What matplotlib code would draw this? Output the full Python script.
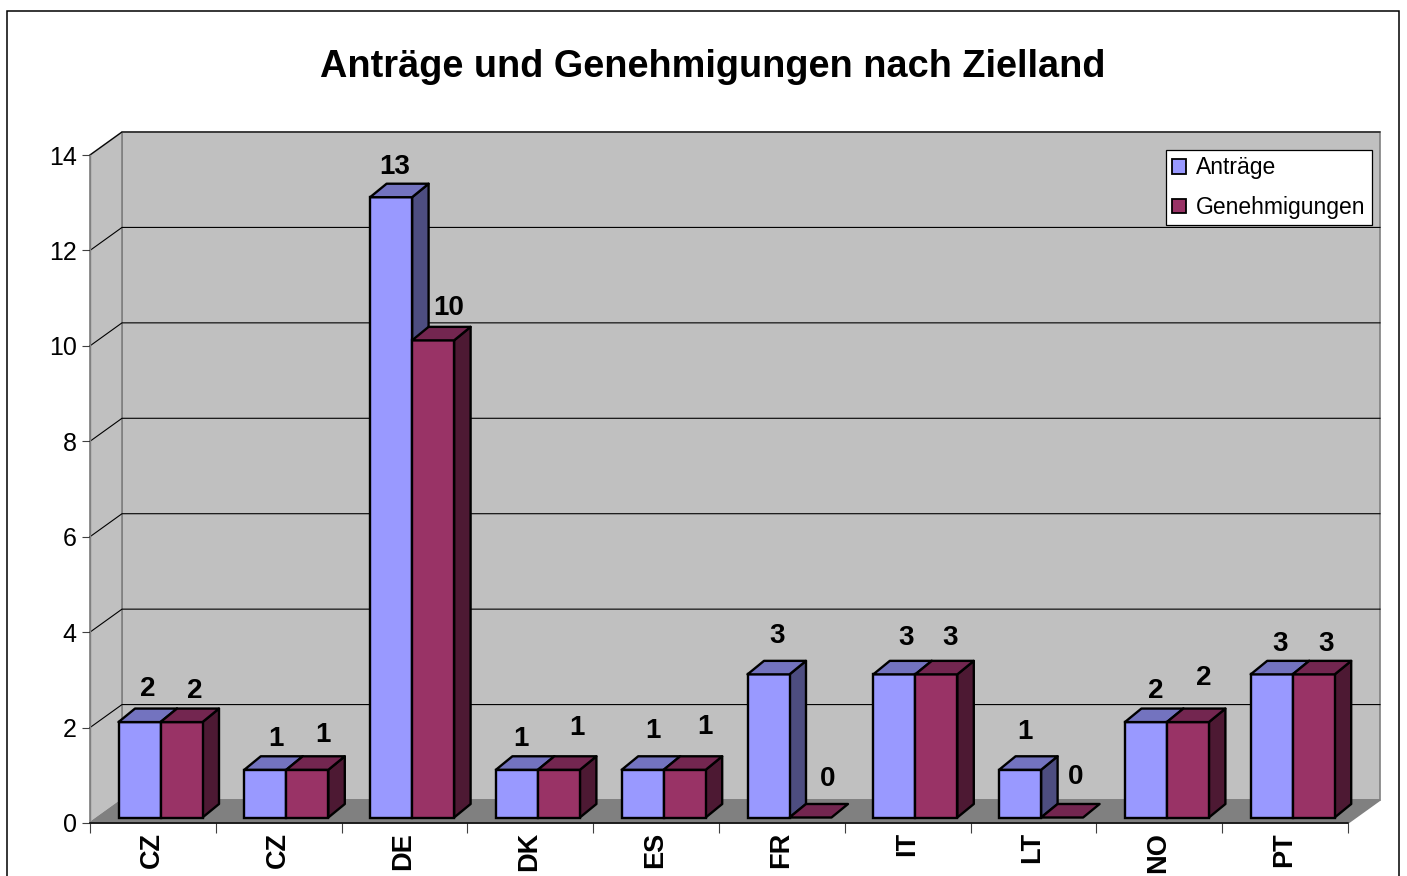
import matplotlib
matplotlib.use('Agg')
from matplotlib import pyplot as plt
from matplotlib.patches import Patch, Polygon, Rectangle
from matplotlib.transforms import ScaledTranslation

plt.rcParams['font.family'] = ['Liberation Sans', 'DejaVu Sans']

W, H = 1407, 876

# Data
laender = ['CZ', 'CZ', 'DE', 'DK', 'ES', 'FR', 'IT', 'LT', 'NO', 'PT']
antraege = [2, 1, 13, 1, 1, 3, 3, 1, 2, 3]
genehmigungen = [2, 1, 10, 1, 1, 0, 3, 0, 2, 3]
y_ticks = [0, 2, 4, 6, 8, 10, 12, 14]

# Label nudges in pixels, the labels float unevenly above the bars
antraege_nudge = [(8.5, 33), (11, 31), (4, 30), (4, 31), (10, 39),
                  (9, 38), (12, 36), (5, 38), (10, 31), (8, 30)]
genehm_nudge = [(13.5, 31), (16, 35), (16, 32), (18, 42), (20, 43),
                (17, 38), (14, 36), (14, 40), (16, 44), (12, 30)]

# Plot area in pixels
LEFT, RIGHT, BOTTOM, TOP = 90, 1348, 823, 155
PX_X = len(laender) / (RIGHT - LEFT)
PX_Y = 14 / (BOTTOM - TOP)

# 3d look: wall depth, bar depth, bar base
WALL_X, WALL_Y = 32 * PX_X, 23 * PX_Y
BAR_DX, BAR_DY = 16.5 * PX_X, 13.5 * PX_Y
BASE = 5.5 * PX_Y
BAR_W = 42 * PX_X
BAR_START = 28.5 * PX_X

fig = plt.figure(figsize=(W / 100, H / 100), dpi=100, facecolor='white')
ax = fig.add_axes([LEFT / W, 1 - BOTTOM / H, (RIGHT - LEFT) / W, (BOTTOM - TOP) / H])
ax.set_xlim(0, len(laender))
ax.set_ylim(0, 14)
ax.patch.set_visible(False)

# Outer chart border, its bottom edge is cut off in the picture
fig.add_artist(Rectangle((7 / W, -0.02), (1399 - 7) / W, 1.02 - 11 / H,
                         transform=fig.transFigure, fill=False,
                         edgecolor='black', linewidth=1.1))

n = len(laender)
wall_kw = dict(clip_on=False, linewidth=1.2, edgecolor='#808080', zorder=1)
ax.add_patch(Rectangle((WALL_X, WALL_Y), n, 14, facecolor='#C0C0C0', **wall_kw))
ax.add_patch(Polygon([(0, 0), (WALL_X, WALL_Y), (WALL_X, 14 + WALL_Y), (0, 14)],
                     facecolor='#C0C0C0', **wall_kw))
ax.add_patch(Polygon([(0, 0), (n, 0), (n + WALL_X, WALL_Y), (WALL_X, WALL_Y)],
                     facecolor='#808080', **wall_kw))

for t in y_ticks[1:]:
    ax.plot([0, WALL_X, n + WALL_X], [t, t + WALL_Y, t + WALL_Y], color='black',
            linewidth=0.8, clip_on=False, zorder=2)


def draw_bars(start, values, front, top, side, nudges):
    for i, v in enumerate(values):
        x0 = i + start
        x1 = x0 + BAR_W
        y1 = BASE + v
        if v > 0:
            ax.add_patch(Polygon([(x1, BASE), (x1 + BAR_DX, BASE + BAR_DY),
                                  (x1 + BAR_DX, y1 + BAR_DY), (x1, y1)],
                                 facecolor=side, edgecolor='black', linewidth=1.7,
                                 clip_on=False, zorder=3, joinstyle='round'))
            ax.bar(x0, v, width=BAR_W, bottom=BASE, align='edge', color=front,
                   edgecolor='black', linewidth=1.7, clip_on=False, zorder=3)
        ax.add_patch(Polygon([(x0, y1), (x1, y1), (x1 + BAR_DX, y1 + BAR_DY),
                              (x0 + BAR_DX, y1 + BAR_DY)],
                             facecolor=top, edgecolor='black', linewidth=1.7,
                             clip_on=False, zorder=3, joinstyle='round'))
        ax.annotate(str(v), (x0 + BAR_W / 2, y1),
                    xytext=(nudges[i][0] * 0.72, nudges[i][1] * 0.72),
                    textcoords='offset points', ha='center', va='center',
                    fontsize=20, fontweight='bold', color='black',
                    annotation_clip=False, zorder=5)


draw_bars(BAR_START, antraege, '#9999FF', '#7373BF', '#4D4D80', antraege_nudge)
draw_bars(BAR_START + BAR_W, genehmigungen, '#993366', '#732650', '#4D1933', genehm_nudge)

# Axes
for s in ['top', 'right']:
    ax.spines[s].set_visible(False)
ax.spines['left'].set_color('#808080')
ax.spines['left'].set_linewidth(1.0)
ax.spines['bottom'].set_color('black')
ax.spines['bottom'].set_linewidth(1.1)
for s in ax.spines.values():
    s.set_zorder(2.5)

ax.set_yticks(y_ticks)
ax.tick_params(axis='y', length=6, width=0.8, color='#404040', pad=3.5, labelsize=18)
ax.set_xticks(range(n + 1))
ax.set_xticklabels([])
ax.tick_params(axis='x', which='major', length=7, width=0.8, color='#404040')
ax.set_xticks([i + 0.5 for i in range(n)], minor=True)
ax.set_xticklabels(laender, minor=True, rotation=90, fontsize=19.5, fontweight='bold')
ax.tick_params(axis='x', which='minor', length=0, pad=6.5)
shift = ScaledTranslation(-1 / 100, 0, fig.dpi_scale_trans)
for lab in ax.get_xticklabels(minor=True):
    lab.set_transform(lab.get_transform() + shift)

handles = [Patch(facecolor='#9999FF', edgecolor='black', linewidth=1.3, label='Anträge'),
           Patch(facecolor='#993366', edgecolor='black', linewidth=1.3, label='Genehmigungen')]
leg = ax.legend(handles=handles, loc='upper left', bbox_to_anchor=(1166 / W, 1 - 150 / H),
                bbox_transform=fig.transFigure, borderaxespad=0, fontsize=16.5,
                fancybox=False, framealpha=1, edgecolor='black', handlelength=0.6,
                handleheight=0.6, handletextpad=0.42, labelspacing=0.72,
                borderpad=0.28)
leg.get_frame().set_linewidth(0.9)
leg.set_zorder(6)

fig.text(712.5 / W, 1 - 67 / H, 'Anträge und Genehmigungen nach Zielland',
         ha='center', va='center', fontsize=27.3, fontweight='bold')

fig.savefig('out.png', dpi=100)
